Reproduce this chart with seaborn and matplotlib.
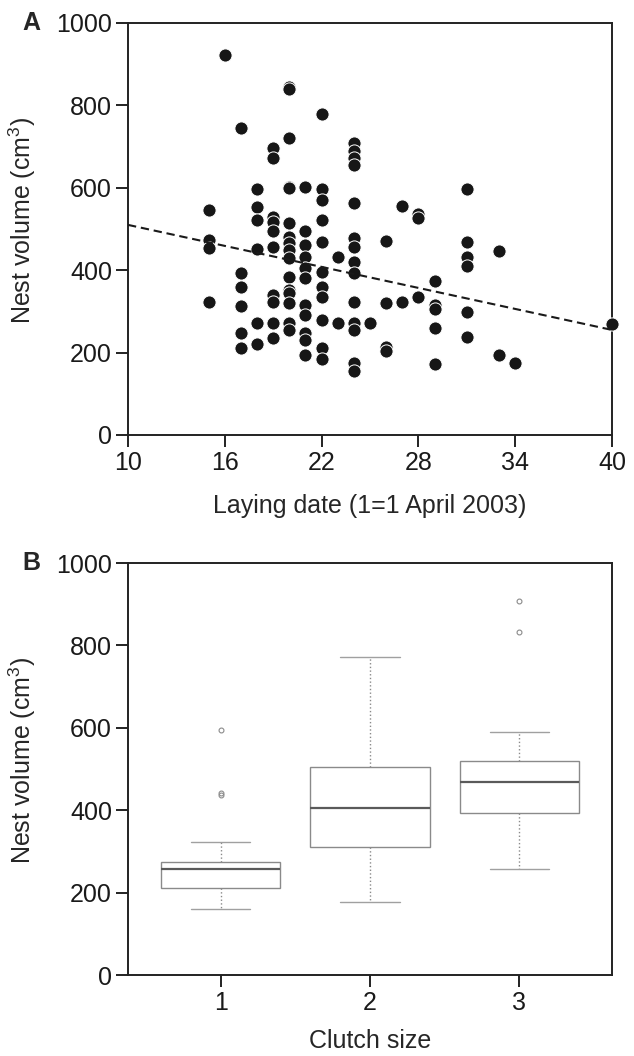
import numpy as np
import pandas as pd
import matplotlib
matplotlib.use("Agg")
import matplotlib.pyplot as plt
import seaborn as sns

# --- data: panel A, nest volume vs laying date (1 = 1 April 2003) ---
laying_day = (
    [15] * 4 + [16] + [17] * 6 + [18] * 6 + [19] * 10 + [20] * 16 + [21] * 11
    + [22] * 11 + [23] * 2 + [24] * 14 + [25] + [26] * 4 + [27] * 2 + [28] * 3
    + [29] * 5 + [31] * 6 + [33] * 2 + [34] + [40]
)
nest_volume = [
    546, 473, 454, 324,
    923,
    745, 393, 359, 313, 248, 211,
    597, 553, 522, 452, 272, 220,
    697, 672, 530, 518, 494, 457, 340, 324, 272, 235,
    845, 840, 722, 601, 600, 514, 480, 465, 449, 430, 384, 352, 345, 320, 272, 255,
    601, 494, 461, 433, 405, 380, 315, 291, 247, 231, 194,
    778, 597, 570, 522, 469, 396, 360, 334, 279, 211, 184,
    433, 272,
    708, 690, 672, 655, 562, 478, 457, 421, 392, 324, 271, 255, 174, 156,
    271,
    472, 320, 214, 204,
    557, 324,
    537, 527, 334,
    374, 315, 307, 259, 172,
    596, 468, 433, 409, 298, 239,
    447, 194,
    174,
    269,
]
# fitted regression line (end points)
fit_day = [10, 40]
fit_volume = [510, 255]

# --- data: panel B, nest volume by clutch size ---
clutch_labels = ["1", "2", "3"]
vol_clutch1 = [160, 185, 195, 205, 210, 225, 240, 250, 256.5, 262, 268, 272, 275,
               324, 436, 442, 595]
vol_clutch2 = [176, 205, 235, 260, 285, 311, 330, 350, 370, 390, 404.5, 420, 440,
               460, 480, 506, 540, 580, 625, 700, 771]
vol_clutch3 = [256.5, 300, 340, 375, 394, 420, 440, 455, 467.6, 480, 495, 505, 518.5,
               555, 590, 832, 908]

df_a = pd.DataFrame({"day": laying_day, "volume": nest_volume})
df_b = pd.DataFrame({
    "clutch": ["1"] * len(vol_clutch1) + ["2"] * len(vol_clutch2) + ["3"] * len(vol_clutch3),
    "volume": vol_clutch1 + vol_clutch2 + vol_clutch3,
})

sns.set_theme(style="ticks")
plt.rcParams["font.family"] = ["Liberation Sans", "DejaVu Sans"]
plt.rcParams["mathtext.fontset"] = "custom"
plt.rcParams["mathtext.rm"] = "Liberation Sans"
plt.rcParams["mathtext.it"] = "Liberation Sans:italic"

FS = 18
fig = plt.figure(figsize=(6.34, 10.56), dpi=100)
ax_a = fig.add_axes([0.2019, 0.58807, 0.7634, 0.39015])
ax_b = fig.add_axes([0.2019, 0.07670, 0.7634, 0.39015])

# ===================== PANEL A =====================
sns.scatterplot(data=df_a, x="day", y="volume", color="#161616", s=90,
                edgecolor="white", linewidth=0.7, ax=ax_a, clip_on=False, zorder=3)
ax_a.plot(fit_day, fit_volume, color="#1a1a1a", lw=1.5, ls=(0, (4, 2.3)), zorder=4)

ax_a.set_xlim(10, 40)
ax_a.set_ylim(0, 1000)
ax_a.set_xticks([10, 16, 22, 28, 34, 40])
ax_a.set_yticks(range(0, 1001, 200))
ax_a.set_xlabel("Laying date (1=1 April 2003)", fontsize=FS)
ax_a.set_ylabel("Nest volume (cm$^3$)", fontsize=FS)

# ===================== PANEL B =====================
sns.boxplot(data=df_b, x="clutch", y="volume", order=clutch_labels, color="white",
            linecolor="#8a8a8a", linewidth=1.0, width=0.8, ax=ax_b,
            whiskerprops=dict(linestyle=":", color="#8a8a8a"),
            capprops=dict(color="#a0a0a0"),
            medianprops=dict(color="#5a5a5a", linewidth=1.6),
            flierprops=dict(marker="o", markersize=3.5, markerfacecolor="none",
                            markeredgecolor="#8a8a8a", markeredgewidth=0.8))
ax_b.set_xlim(-0.62, 2.62)
ax_b.set_ylim(0, 1000)
ax_b.set_yticks(range(0, 1001, 200))
ax_b.set_xlabel("Clutch size", fontsize=FS)
ax_b.set_ylabel("Nest volume (cm$^3$)", fontsize=FS)

for ax in (ax_a, ax_b):
    for sp in ax.spines.values():
        sp.set_visible(True)
        sp.set_linewidth(1.4)
        sp.set_color("#222222")
    ax.tick_params(direction="out", length=8.5, width=1.4, color="#222222",
                   labelsize=FS, labelcolor="#1a1a1a", pad=3)
    ax.yaxis.set_label_coords(-0.185, 0.52)
    ax.grid(False)

ax_a.xaxis.set_label_coords(0.5, -0.142)
ax_b.xaxis.set_label_coords(0.5, -0.132)

fig.text(31 / 634, 1 - 23 / 1056, "A", fontsize=FS, fontweight="bold", ha="center", va="center")
fig.text(31 / 634, 1 - 563 / 1056, "B", fontsize=FS, fontweight="bold", ha="center", va="center")

fig.savefig("out.png", dpi=100)
